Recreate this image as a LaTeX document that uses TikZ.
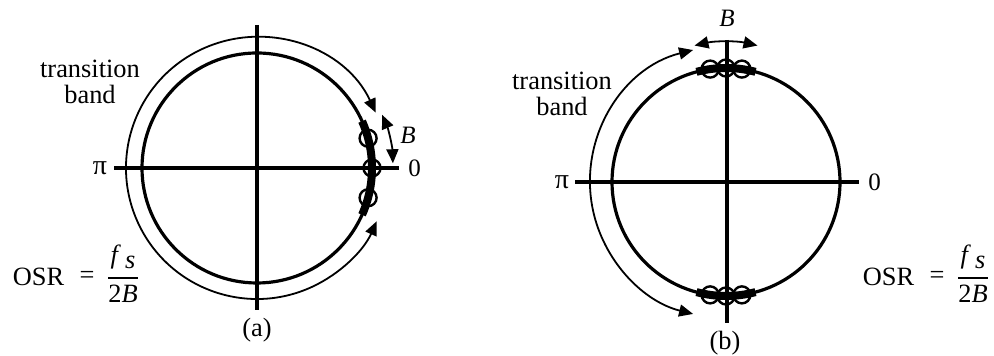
\documentclass[tikz,border=0pt]{standalone}
\usepackage{fontspec}
\setmainfont{Liberation Serif}
\usetikzlibrary{arrows.meta}
\begin{document}
\begin{tikzpicture}[x=0.5pt,y=0.5pt,
  axis/.style={line width=1.6pt},
  unitcirc/.style={line width=1.6pt},
  band/.style={line width=0.9pt, {Triangle[length=7pt,width=6pt]}-{Triangle[length=7pt,width=6pt]}},
  signal/.style={line width=4pt},
  zero/.style={line width=1.2pt},
  lbl/.style={font=\fontsize{13.2}{15}\selectfont, inner sep=0pt},
  small/.style={font=\fontsize{12.5}{14}\selectfont, inner sep=0pt},
  greek/.style={font=\fontsize{14}{16}\selectfont, inner sep=0pt},
  fbar/.style={line width=0.6pt}]
\useasboundingbox (0,0) rectangle (994,356);

% ---------- (a) ----------
\coordinate (ca) at (257,188);
\coordinate (aW) at (114,188);
\coordinate (aE) at (399,188);
\coordinate (aN) at (257,331);
\coordinate (aS) at (257,46);
\draw[axis] (aW) -- (aE);
\draw[axis] (aN) -- (aS);
\draw[unitcirc] (ca) circle[radius=115];
\draw[band] ([shift={(25:131)}]ca) arc[start angle=25,end angle=336,radius=131];
\draw[signal] ([shift={(-24:115)}]ca) arc[start angle=-24,end angle=24,radius=115];
\foreach \a in {15,0,-15} \draw[zero] ([shift={(\a:115)}]ca) circle[radius=8.5];
\draw[band] ([shift={(2:136)}]ca) arc[start angle=2,end angle=23,radius=136];
\node[small] (aB) at (408,221) {\textit{B}};
\node[small, anchor=west] (a0) at (408,188) {0};
\node[greek] (api) at (100,188) {π};
\node[lbl, anchor=base] (atb1) at (90,278) {transition};
\node[lbl, anchor=base] (atb2) at (90,252) {band};
\node[lbl] (aosr) at (38.5,79) {OSR};
\node[lbl] (aeq) at (87,79) {=};
\node[lbl] (anum) at (123,99) {\textit{f}\kern2pt\raisebox{-0.4ex}{\textit{s}}};
\node[lbl] (aden) at (123,62) {2\textit{B}};
\coordinate (abL) at (108,78);
\coordinate (abR) at (138,78);
\draw[fbar] (abL) -- (abR);
\node[lbl] (alab) at (257,26) {(a)};

% ---------- (b) ----------
\coordinate (cb) at (726,174);
\coordinate (bW) at (575,174);
\coordinate (bE) at (859,174);
\coordinate (bN) at (727,316);
\coordinate (bS) at (727,33);
\draw[axis] (bW) -- (bE);
\draw[axis] (bN) -- (bS);
\draw[unitcirc] (cb) circle[radius=114];
\draw[band] ([shift={(104:136)}]cb) arc[start angle=104,end angle=256,radius=136];
\draw[signal] ([shift={(75:114)}]cb) arc[start angle=75,end angle=105,radius=114];
\draw[signal] ([shift={(255:114)}]cb) arc[start angle=255,end angle=285,radius=114];
\foreach \a in {82,90,98,262,270,278} \draw[zero] ([shift={(\a:114)}]cb) circle[radius=8.5];
\draw[band] ([shift={(77:140)}]cb) arc[start angle=77,end angle=103,radius=140];
\node[small] (bB) at (727,338) {\textit{B}};
\node[small, anchor=west] (b0) at (868,174) {0};
\node[greek] (bpi) at (562,174) {π};
\node[lbl, anchor=base] (btb1) at (562,266) {transition};
\node[lbl, anchor=base] (btb2) at (562,240) {band};
\node[lbl] (bosr) at (888.5,79) {OSR};
\node[lbl] (beq) at (937,79) {=};
\node[lbl] (bnum) at (973,99) {\textit{f}\kern2pt\raisebox{-0.4ex}{\textit{s}}};
\node[lbl] (bden) at (973,62) {2\textit{B}};
\coordinate (bbL) at (958,78);
\coordinate (bbR) at (988,78);
\draw[fbar] (bbL) -- (bbR);
\node[lbl] (blab) at (725,13) {(b)};
\end{tikzpicture}
\end{document}
